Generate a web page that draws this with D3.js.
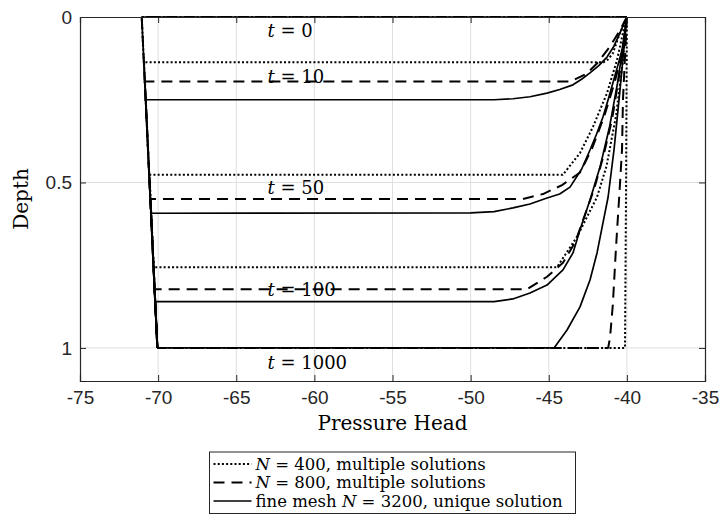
<!DOCTYPE html>
<html>
<head>
<meta charset="utf-8">
<script src="https://cdn.jsdelivr.net/npm/d3@7"></script>
<style>
body { margin: 0; background: #fff; }
.tick text { font-family: "Liberation Sans", Arial, sans-serif; font-size: 19px; fill: #262626; }
.tex { font-family: "DejaVu Serif", "Liberation Serif", serif; fill: #000; }
</style>
</head>
<body>
<svg id="chart" width="721" height="527"></svg>
<script>
// axis ticks
const pressureTicks = [-75, -70, -65, -60, -55, -50, -45, -40, -35];
const depthTicks = [0, 0.5, 1];

// time labels placed next to the fronts
const timeLabels = ["0", "10", "50", "100", "1000"];
const timeLabelDepth = [0.04, 0.18, 0.515, 0.825, 1.045];
const timeLabelPressure = -63;

// N = 400 profiles, [pressure head, depth]
const n400_t0 = [[-40, 0], [-71.05, 0], [-70.05, 1]];
const n400_t10 = [[-40, 0], [-40.44, 0.048], [-40.9, 0.11], [-41.2, 0.128], [-41.5, 0.137], [-70.9, 0.137], [-70.05, 1]];
const n400_t50 = [[-40, 0], [-40.25, 0.048], [-40.63, 0.13], [-41.27, 0.23], [-42.17, 0.332], [-43.0, 0.411], [-44.1, 0.477], [-70.55, 0.477], [-70.05, 1]];
const n400_t100 = [[-40, 0], [-40.3, 0.15], [-40.7, 0.3], [-41.3, 0.45], [-41.91, 0.544], [-42.55, 0.604], [-43.19, 0.664], [-43.83, 0.71], [-44.47, 0.756], [-70.28, 0.756], [-70.05, 1]];
const n400_t1000 = [[-40, 0], [-40.05, 0.5], [-40.12, 1], [-70.05, 1]];

// N = 800 profiles
const n800_t0 = [[-40, 0], [-71.05, 0], [-70.05, 1]];
const n800_t10 = [[-40, 0], [-40.5, 0.045], [-41.1, 0.09], [-41.9, 0.14], [-42.6, 0.172], [-43.6, 0.195], [-70.85, 0.195], [-70.05, 1]];
const n800_t50 = [[-40, 0], [-40.25, 0.1], [-40.8, 0.2], [-41.45, 0.3], [-42.25, 0.4], [-43.0, 0.47], [-44.15, 0.508], [-45.37, 0.535], [-46.65, 0.55], [-70.5, 0.55], [-70.05, 1]];
const n800_t100 = [[-40, 0], [-40.2, 0.08], [-40.5, 0.18], [-40.95, 0.31], [-41.5, 0.42], [-42.1, 0.52], [-42.7, 0.6], [-43.3, 0.68], [-44.09, 0.743], [-45.11, 0.785], [-46.4, 0.823], [-70.22, 0.823], [-70.05, 1]];
const n800_t1000 = [[-40, 0], [-40.25, 0.25], [-40.31, 0.4], [-40.5, 0.55], [-40.7, 0.7], [-40.9, 0.87], [-41.08, 0.97], [-41.2, 1], [-70.05, 1]];

// fine mesh N = 3200 profiles
const fine_t0 = [[-40, 0], [-71.05, 0], [-70.05, 1]];
const fine_t10 = [[-40, 0], [-40.44, 0.048], [-40.85, 0.09], [-41.27, 0.121], [-41.8, 0.147], [-42.36, 0.169], [-42.9, 0.188], [-43.45, 0.205], [-44.3, 0.219], [-45.11, 0.23], [-46.2, 0.241], [-47.29, 0.247], [-48.5, 0.25], [-70.8, 0.25], [-70.05, 1]];
const fine_t50 = [[-40, 0], [-40.31, 0.1], [-40.6, 0.15], [-40.89, 0.199], [-41.2, 0.25], [-41.53, 0.302], [-41.95, 0.355], [-42.36, 0.402], [-42.9, 0.46], [-43.64, 0.514], [-44.3, 0.535], [-45.11, 0.547], [-46.2, 0.565], [-47.29, 0.577], [-48.5, 0.588], [-50, 0.592], [-70.46, 0.593], [-70.05, 1]];
const fine_t100 = [[-40, 0], [-40.25, 0.09], [-40.6, 0.2], [-41.1, 0.33], [-41.7, 0.45], [-42.36, 0.553], [-43.0, 0.643], [-43.45, 0.713], [-44.09, 0.764], [-45.11, 0.81], [-46.2, 0.834], [-47.3, 0.852], [-48.5, 0.86], [-70.19, 0.86], [-70.05, 1]];
const fine_t1000 = [[-40, 0], [-40.44, 0.22], [-40.82, 0.4], [-41.2, 0.544], [-41.53, 0.622], [-41.91, 0.713], [-42.36, 0.795], [-43.0, 0.876], [-43.83, 0.946], [-44.66, 1], [-70.05, 1]];

const n400Profiles = [n400_t0, n400_t10, n400_t50, n400_t100, n400_t1000];
const n800Profiles = [n800_t0, n800_t10, n800_t50, n800_t100, n800_t1000];
const fineProfiles = [fine_t0, fine_t10, fine_t50, fine_t100, fine_t1000];

// legend entries: prefix, math symbol, rest
const legendLabels = [
    ["", "N", " = 400, multiple solutions"],
    ["", "N", " = 800, multiple solutions"],
    ["fine mesh ", "N", " = 3200, unique solution"]
];

const svg = d3.select("#chart");
const axisColor = "#262626";

const xScale = d3.scaleLinear().domain([-75, -35]).range([80, 705]);
const yScale = d3.scaleLinear().domain([0, 1.1]).range([17, 381]);

// grid
svg.append("g")
    .selectAll("line")
    .data(pressureTicks.slice(1, -1))
    .join("line")
    .attr("x1", d => xScale(d)).attr("x2", d => xScale(d))
    .attr("y1", yScale(0)).attr("y2", yScale(1.1))
    .attr("stroke", "#dfdfdf").attr("stroke-width", 1);

svg.append("g")
    .selectAll("line")
    .data(depthTicks.slice(1))
    .join("line")
    .attr("x1", xScale(-75)).attr("x2", xScale(-35))
    .attr("y1", d => yScale(d)).attr("y2", d => yScale(d))
    .attr("stroke", "#dfdfdf").attr("stroke-width", 1);

const lineGen = d3.line()
    .x(d => xScale(d[0]))
    .y(d => yScale(d[1]));

const styles = [
    { profiles: n400Profiles, dash: "2,2.2", width: 2 },
    { profiles: n800Profiles, dash: "11,7", width: 2 },
    { profiles: fineProfiles, dash: null, width: 1.7 }
];

styles.forEach(s => {
    svg.append("g")
        .selectAll("path")
        .data(s.profiles)
        .join("path")
        .attr("fill", "none")
        .attr("stroke", "#000")
        .attr("stroke-width", s.width)
        .attr("stroke-dasharray", s.dash)
        .attr("stroke-linejoin", "round")
        .attr("d", lineGen);
});

// time labels
const tl = svg.append("g").selectAll("text")
    .data(timeLabels)
    .join("text")
    .attr("class", "tex")
    .attr("x", xScale(timeLabelPressure))
    .attr("y", (d, i) => yScale(timeLabelDepth[i]))
    .attr("dy", "0.35em")
    .attr("font-size", "18px");
tl.append("tspan").attr("font-style", "italic").text("t");
tl.append("tspan").text(d => " = " + d);

// axes, ticks pointing inward on all sides
svg.append("g")
    .attr("transform", `translate(0, ${yScale(1.1)})`)
    .call(d3.axisBottom(xScale).tickValues(pressureTicks).tickSize(-6).tickPadding(10).tickFormat(d3.format("d")))
    .call(g => g.selectAll(".tick text").text(d => String(d)));

svg.append("g")
    .attr("transform", `translate(0, ${yScale(0)})`)
    .call(d3.axisTop(xScale).tickValues(pressureTicks).tickSize(-6).tickFormat(""));

svg.append("g")
    .attr("transform", `translate(${xScale(-75)}, 0)`)
    .call(d3.axisLeft(yScale).tickValues(depthTicks).tickSize(-6).tickPadding(8).tickFormat(d => String(d)));

svg.append("g")
    .attr("transform", `translate(${xScale(-35)}, 0)`)
    .call(d3.axisRight(yScale).tickValues(depthTicks).tickSize(-6).tickFormat(""));

svg.selectAll(".domain").attr("stroke", axisColor).attr("stroke-width", 1.2);
svg.selectAll(".tick line").attr("stroke", axisColor);

// axis labels
svg.append("text")
    .attr("class", "tex")
    .attr("x", (xScale(-75) + xScale(-35)) / 2)
    .attr("y", 430)
    .attr("text-anchor", "middle")
    .attr("font-size", "20px")
    .text("Pressure Head");

svg.append("text")
    .attr("class", "tex")
    .attr("transform", `translate(28, ${(yScale(0) + yScale(1.1)) / 2}) rotate(-90)`)
    .attr("text-anchor", "middle")
    .attr("font-size", "20px")
    .text("Depth");

// legend, centred under the axes
const legendW = 366, rowH = 18.5;
const legend = svg.append("g")
    .attr("transform", `translate(${(xScale(-75) + xScale(-35)) / 2 - legendW / 2}, 452)`);
legend.append("rect")
    .attr("width", legendW).attr("height", rowH * 3 + 6)
    .attr("fill", "#fff").attr("stroke", axisColor).attr("stroke-width", 1);

const rows = legend.selectAll("g.row")
    .data(legendLabels)
    .join("g")
    .attr("class", "row")
    .attr("transform", (d, i) => `translate(0, ${12 + i * rowH})`);

rows.append("line")
    .attr("x1", 4).attr("x2", 42)
    .attr("stroke", "#000")
    .attr("stroke-width", (d, i) => styles[i].width)
    .attr("stroke-dasharray", (d, i) => styles[i].dash);

const lt = rows.append("text")
    .attr("class", "tex")
    .attr("x", 46)
    .attr("dy", "0.35em")
    .attr("font-size", "16.5px");
lt.append("tspan").text(d => d[0]);
lt.append("tspan").attr("font-style", "italic").text(d => d[1]);
lt.append("tspan").text(d => d[2]);
</script>
</body>
</html>
